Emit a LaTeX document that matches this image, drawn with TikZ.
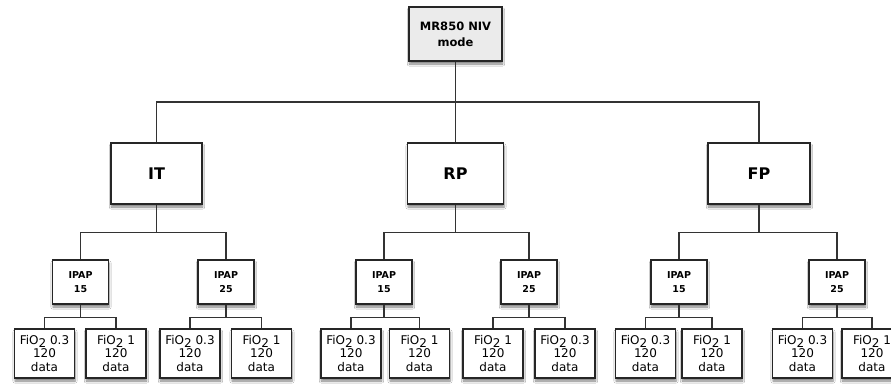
\documentclass[tikz,border=0pt]{standalone}
\usepackage{fontspec}
\setmainfont{DejaVu Sans}
\usetikzlibrary{shadows.blur}
\definecolor{linec}{HTML}{333333}
\definecolor{boxc}{HTML}{262626}
\definecolor{topfill}{HTML}{EBEBEB}
\newcommand{\fio}{FiO\raisebox{-3pt}{2}}
\tikzset{
  basebox/.style={draw=boxc, line width=1.5pt, fill=white, inner sep=0pt, align=center,
    blur shadow={shadow xshift=0.5pt, shadow yshift=-3pt, shadow blur steps=6, shadow opacity=50}},
  topbox/.style={basebox, fill=topfill, line width=2.2pt, minimum width=93pt, minimum height=54pt,
    font=\fontsize{11.5}{16}\selectfont\bfseries},
  midbox/.style={basebox, minimum height=61pt, font=\fontsize{16}{18}\selectfont\bfseries},
  ipapbox/.style={basebox, minimum width=56pt, minimum height=44pt,
    font=\fontsize{9.5}{14}\selectfont\bfseries},
  leafbox/.style={basebox, minimum width=60pt, minimum height=49pt,
    font=\fontsize{12}{13.5}\selectfont},
  conn/.style={draw=linec, line width=1.4pt}
}
\begin{document}
\begin{tikzpicture}[x=1pt,y=-1pt]
\clip (0,0) rectangle (891,391);
\fill[white] (0,0) rectangle (891,391);
% top
\node[topbox] (top) at (455.5,34) {MR850 NIV\\mode};
% middle
\node[midbox, minimum width=91pt] (IT) at (156.5,173.5) {IT};
\node[midbox, minimum width=96pt] (RP) at (455.5,173.5) {RP};
\node[midbox, minimum width=102pt] (FP) at (759,173.5) {FP};
% ipap
\node[ipapbox] (IT15) at (80.5,282) {IPAP\\15};
\node[ipapbox] (IT25) at (226,282) {IPAP\\25};
\node[ipapbox] (RP15) at (384,282) {IPAP\\15};
\node[ipapbox] (RP25) at (529,282) {IPAP\\25};
\node[ipapbox] (FP15) at (679,282) {IPAP\\15};
\node[ipapbox] (FP25) at (837,282) {IPAP\\25};
% leaves
\node[leafbox] (a1) at (44.5,353.5) {\fio{} 0.3\\120\\data};
\node[leafbox] (a2) at (116,353.5) {\fio{} 1\\120\\data};
\node[leafbox] (a3) at (190,353.5) {\fio{} 0.3\\120\\data};
\node[leafbox] (a4) at (261.5,353.5) {\fio{} 1\\120\\data};
\node[leafbox] (b1) at (351,353.5) {\fio{} 0.3\\120\\data};
\node[leafbox] (b2) at (419.5,353.5) {\fio{} 1\\120\\data};
\node[leafbox] (b3) at (493,353.5) {\fio{} 1\\120\\data};
\node[leafbox] (b4) at (565,353.5) {\fio{} 0.3\\120\\data};
\node[leafbox] (c1) at (645.5,353.5) {\fio{} 0.3\\120\\data};
\node[leafbox] (c2) at (712,353.5) {\fio{} 1\\120\\data};
\node[leafbox] (c3) at (802.5,353.5) {\fio{} 0.3\\120\\data};
\node[leafbox] (c4) at (872,353.5) {\fio{} 1\\120\\data};
% connectors
\draw[conn] (top.south) -- ++(0,40) -| (IT.north);
\draw[conn] (top.south) -- ++(0,40) -| (FP.north);
\draw[conn] (top.south) -- (RP.north);
\foreach \m/\l/\r in {IT/IT15/IT25, RP/RP15/RP25, FP/FP15/FP25}{
  \draw[conn] (\m.south) -- ++(0,28) -| (\l.north);
  \draw[conn] (\m.south) -- ++(0,28) -| (\r.north);
}
\foreach \p/\l/\r in {IT15/a1/a2, IT25/a3/a4, RP15/b1/b2, RP25/b3/b4, FP15/c1/c2, FP25/c3/c4}{
  \draw[conn] (\p.south) -- ++(0,13) -| (\l.north);
  \draw[conn] (\p.south) -- ++(0,13) -| (\r.north);
}
\end{tikzpicture}
\end{document}
